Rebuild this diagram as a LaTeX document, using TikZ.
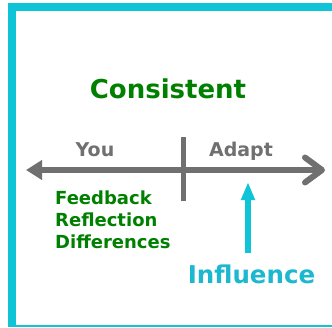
\documentclass[tikz,border=0pt]{standalone}
\usepackage{fontspec}
\setmainfont{DejaVu Sans}
\usetikzlibrary{arrows.meta}
\definecolor{framecyan}{RGB}{16,196,216}
\definecolor{inkgreen}{RGB}{0,128,0}
\definecolor{axisgray}{RGB}{112,112,112}
\definecolor{infl}{RGB}{28,184,208}
\tikzset{
  txt/.style={inner sep=0pt, anchor=base, font=\bfseries\fontsize{#1}{#1}\selectfont},
  listitem/.style={inner sep=0pt, anchor=base west, text=inkgreen, font=\bfseries\fontsize{18}{22}\selectfont},
  axis/.style={draw=axisgray, line width=6pt},
}
\begin{document}
\begin{tikzpicture}[x=1pt,y=-1pt]
\useasboundingbox (0,0) rectangle (332,327);
% outer frame: thick left and top bands, thin band along the bottom
\fill[framecyan] (8,3) rectangle (332,11);
\fill[framecyan] (8,3) rectangle (16,327);
\fill[framecyan] (8,324.5) rectangle (332,327);

% titles and side labels
\node[txt=26, text=inkgreen] (title) at (168,98) {Consistent};
\node[txt=19, text=axisgray] (you) at (95,156) {You};
\node[txt=19, text=axisgray] (adapt) at (241,156) {Adapt};

% the axis with its divider
\coordinate (axL) at (26,170);
\coordinate (axR) at (325,170);
\draw[axis, {Triangle[length=16pt,width=19pt]}-{Straight Barb[length=17pt,width=25pt,round]}] (axL) -- (axR);
\coordinate (tickT) at (183,137);
\coordinate (tickB) at (183,201);
\draw[axis, line width=5pt] (tickT) -- (tickB);

% list on the left
\node[listitem] (fb) at (55,204) {Feedback};
\node[listitem] (rf) at (55,226) {Reflection};
\node[listitem] (df) at (55,248) {Differences};

% influence arrow
\coordinate (infTip) at (248,182);
\coordinate (infBase) at (248,253);
\draw[framecyan, line width=6pt, -{Triangle[length=18pt,width=13pt]}] (infBase) -- (infTip);
\node[txt=24.5, text=infl] (influence) at (251.5,283) {Influence};
\end{tikzpicture}
\end{document}
